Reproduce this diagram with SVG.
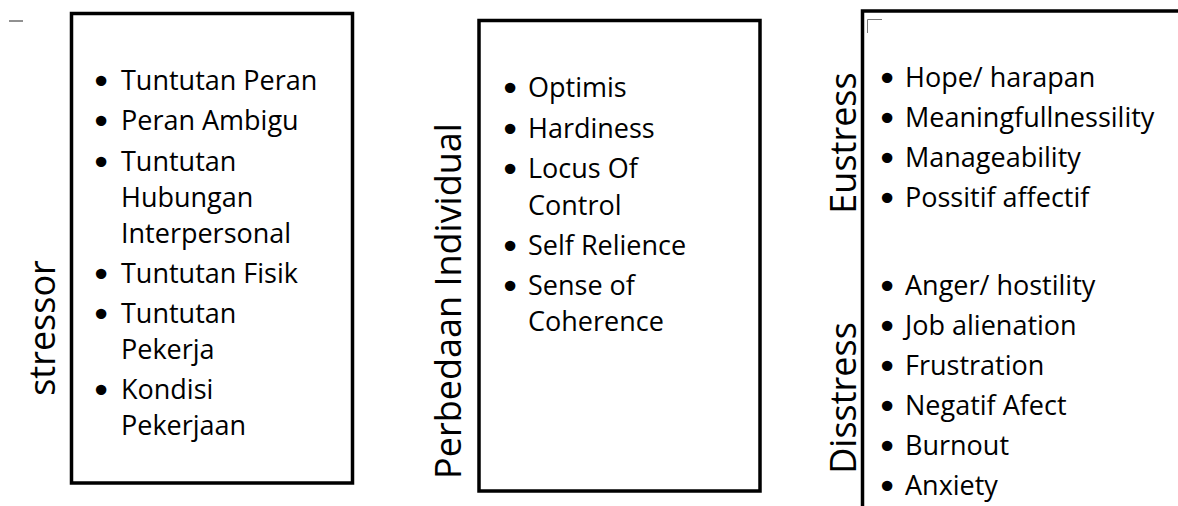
<svg xmlns="http://www.w3.org/2000/svg" width="1178" height="506" viewBox="0 0 1178 506">
  <style>
    .frame { fill: none; stroke: #000; stroke-width: 3.5; }
    .item { font-family: "Open Sans", "Noto Sans", sans-serif; font-size: 27px; fill: #000; }
    .dot { font-family: "DejaVu Sans", sans-serif; font-size: 36px; }
    .title { font-family: "Open Sans", "Noto Sans", sans-serif; font-size: 36px; fill: #000; }
    .mark { fill: none; stroke: #777; stroke-width: 1; }
  </style>
  <rect width="1178" height="506" fill="#fff"/>

  <!-- stray marks -->
  <line x1="9" y1="21" x2="23" y2="21" stroke="#222" stroke-width="1"/>
  <path class="mark" d="M867.5 33 V19.5 H882"/>

  <!-- stressor -->
  <g id="stressor">
    <rect class="frame" x="71.5" y="13.5" width="281" height="469.5"/>
    <text class="title" transform="translate(55 328) rotate(-90)" text-anchor="middle">stressor</text>
    <g class="item">
      <text><tspan class="dot" x="90.5" y="93.5">•</tspan><tspan x="121" y="90">Tuntutan Peran</tspan></text>
      <text><tspan class="dot" x="90.5" y="133.5">•</tspan><tspan x="121" y="130">Peran Ambigu</tspan></text>
      <text><tspan class="dot" x="90.5" y="174.5">•</tspan><tspan x="121" y="171">Tuntutan</tspan></text>
      <text x="121" y="207">Hubungan</text>
      <text x="121" y="243">Interpersonal</text>
      <text><tspan class="dot" x="90.5" y="286.5">•</tspan><tspan x="121" y="283">Tuntutan Fisik</tspan></text>
      <text><tspan class="dot" x="90.5" y="326.5">•</tspan><tspan x="121" y="323">Tuntutan</tspan></text>
      <text x="121" y="359">Pekerja</text>
      <text><tspan class="dot" x="90.5" y="402.5">•</tspan><tspan x="121" y="399">Kondisi</tspan></text>
      <text x="121" y="435">Pekerjaan</text>
    </g>
  </g>

  <!-- perbedaan individual -->
  <g id="perbedaan">
    <rect class="frame" x="479" y="20.5" width="281" height="470.5"/>
    <text class="title" transform="translate(461 301) rotate(-90)" text-anchor="middle">Perbedaan Individual</text>
    <g class="item">
      <text><tspan class="dot" x="499.5" y="100.5">•</tspan><tspan x="528" y="97">Optimis</tspan></text>
      <text><tspan class="dot" x="499.5" y="141.5">•</tspan><tspan x="528" y="138">Hardiness</tspan></text>
      <text><tspan class="dot" x="499.5" y="181.5">•</tspan><tspan x="528" y="178">Locus Of</tspan></text>
      <text x="528" y="215">Control</text>
      <text><tspan class="dot" x="499.5" y="258.5">•</tspan><tspan x="528" y="255">Self Relience</tspan></text>
      <text><tspan class="dot" x="499.5" y="298.5">•</tspan><tspan x="528" y="295">Sense of</tspan></text>
      <text x="528" y="331">Coherence</text>
    </g>
  </g>

  <!-- eustress / disstress -->
  <g id="respon">
    <path class="frame" d="M862.5 510 V11 H1182"/>
    <text class="title" transform="translate(856 143) rotate(-90)" text-anchor="middle">Eustress</text>
    <text class="title" transform="translate(856 398) rotate(-90)" text-anchor="middle">Disstress</text>
    <g class="item">
      <text><tspan class="dot" x="876.5" y="90.5">•</tspan><tspan x="905" y="87">Hope/ harapan</tspan></text>
      <text><tspan class="dot" x="876.5" y="130.5">•</tspan><tspan x="905" y="127">Meaningfullnessility</tspan></text>
      <text><tspan class="dot" x="876.5" y="170.5">•</tspan><tspan x="905" y="167">Manageability</tspan></text>
      <text><tspan class="dot" x="876.5" y="210.5">•</tspan><tspan x="905" y="207">Possitif affectif</tspan></text>
      <text><tspan class="dot" x="876.5" y="298.5">•</tspan><tspan x="905" y="295">Anger/ hostility</tspan></text>
      <text><tspan class="dot" x="876.5" y="338.5">•</tspan><tspan x="905" y="335">Job alienation</tspan></text>
      <text><tspan class="dot" x="876.5" y="378.5">•</tspan><tspan x="905" y="375">Frustration</tspan></text>
      <text><tspan class="dot" x="876.5" y="418.5">•</tspan><tspan x="905" y="415">Negatif Afect</tspan></text>
      <text><tspan class="dot" x="876.5" y="458.5">•</tspan><tspan x="905" y="455">Burnout</tspan></text>
      <text><tspan class="dot" x="876.5" y="498.5">•</tspan><tspan x="905" y="495">Anxiety</tspan></text>
    </g>
  </g>
</svg>
